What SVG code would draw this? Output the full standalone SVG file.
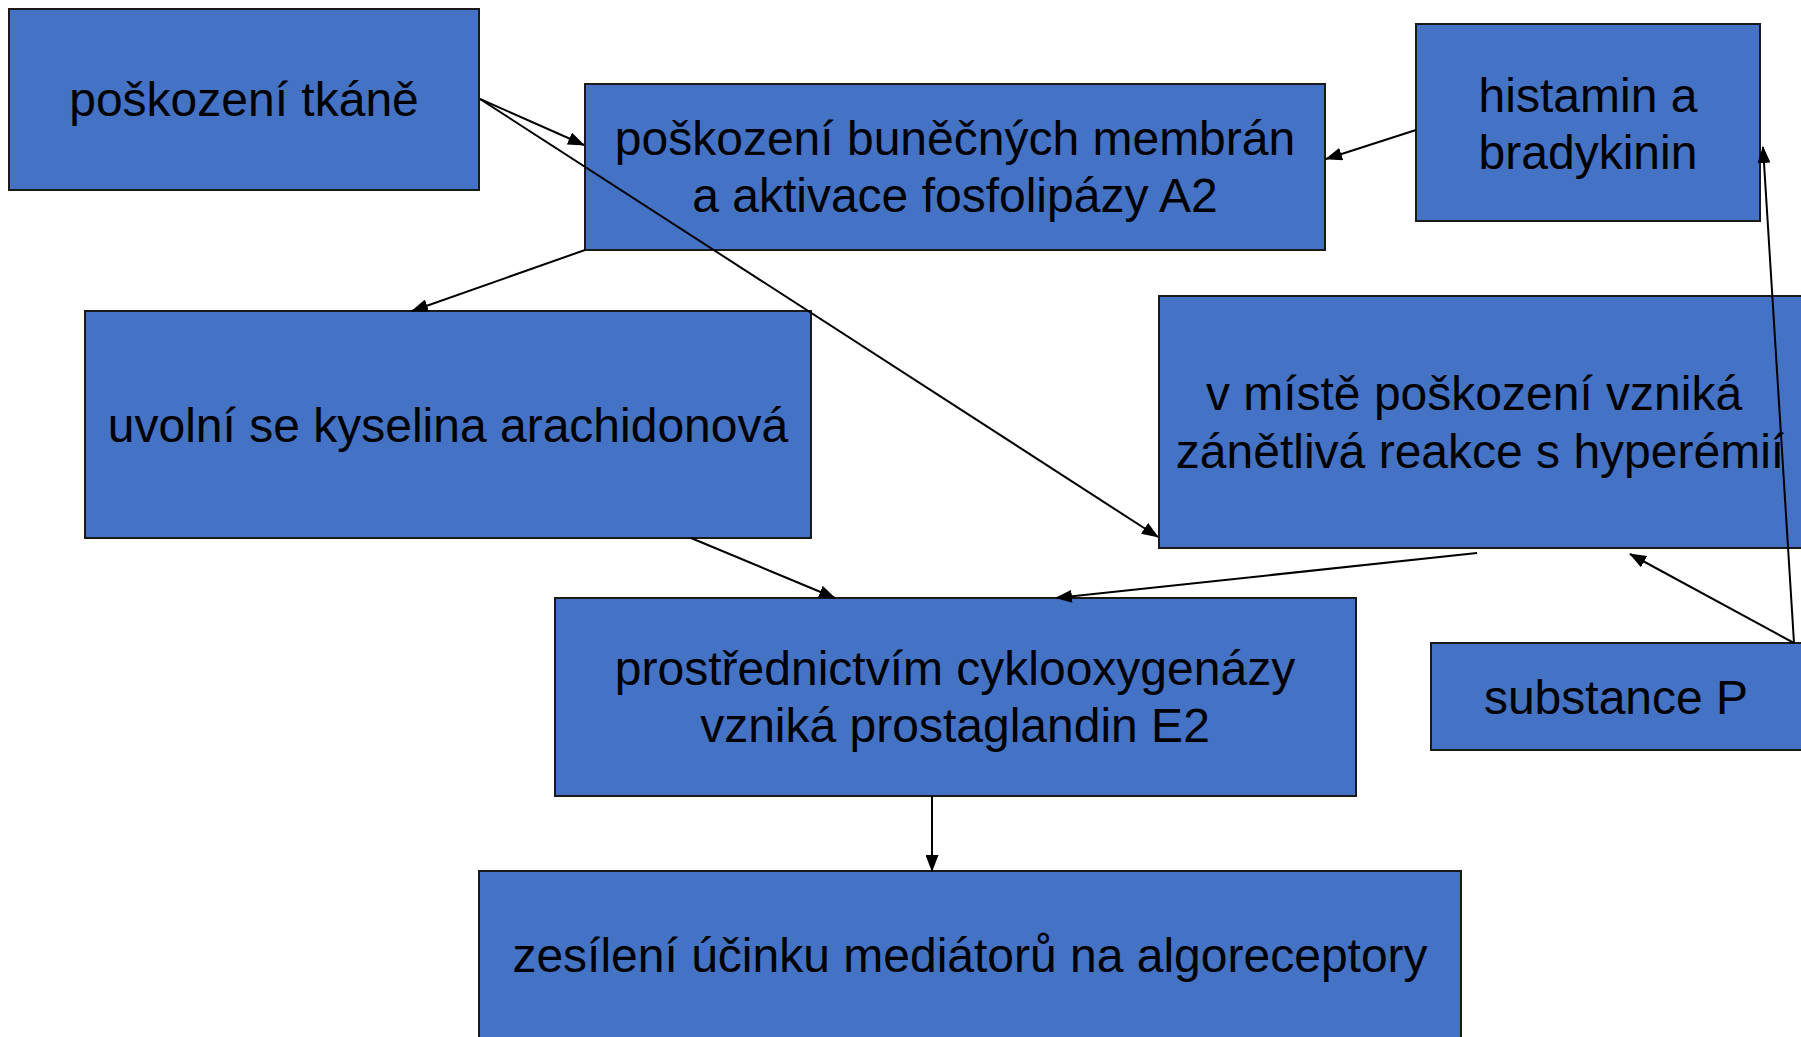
<svg xmlns="http://www.w3.org/2000/svg" width="1801" height="1037" viewBox="0 0 1801 1037">
<style>
.box{fill:#4472C4;stroke:#1a1a1a;stroke-width:2}
.t{font-family:"Liberation Sans",Arial,sans-serif;font-size:48px;fill:#000;text-anchor:middle}
.c{stroke:#000;stroke-width:2;fill:none;marker-end:url(#ah)}
</style>
<defs>
<marker id="ah" markerUnits="userSpaceOnUse" markerWidth="17" markerHeight="13" refX="16" refY="6.5" orient="auto">
<path d="M0,0 L17,6.5 L0,13 z" fill="#000"/>
</marker>
</defs>
<rect width="1801" height="1037" fill="#fff"/>
<g id="n1"><rect class="box" x="9" y="9" width="470" height="181"/><text class="t" x="244" y="116">poškození tkáně</text></g>
<g id="n2"><rect class="box" x="585" y="84" width="740" height="166"/><text class="t" x="955" y="155">poškození buněčných membrán</text><text class="t" x="955" y="212">a aktivace fosfolipázy A2</text></g>
<g id="n3"><rect class="box" x="1416" y="24" width="344" height="197"/><text class="t" x="1588" y="112">histamin a</text><text class="t" x="1588" y="169">bradykinin</text></g>
<g id="n4"><rect class="box" x="85" y="311" width="726" height="227"/><text class="t" x="448" y="442">uvolní se kyselina arachidonová</text></g>
<g id="n5"><rect class="box" x="1159" y="296" width="645" height="252"/><text class="t" x="1474" y="410">v místě poškození vzniká</text><text class="t" x="1480" y="468">zánětlivá reakce s hyperémií</text></g>
<g id="n6"><rect class="box" x="555" y="598" width="801" height="198"/><text class="t" x="955" y="685">prostřednictvím cyklooxygenázy</text><text class="t" x="955" y="742">vzniká prostaglandin E2</text></g>
<g id="n7"><rect class="box" x="1431" y="643" width="373" height="107"/><text class="t" x="1616" y="714">substance P</text></g>
<g id="n8"><rect class="box" x="479" y="871" width="982" height="170"/><text class="t" x="970" y="972">zesílení účinku mediátorů na algoreceptory</text></g>
<g id="connectors">
<line class="c" x1="480" y1="99" x2="584" y2="145"/>
<line class="c" x1="480" y1="99" x2="1158" y2="537"/>
<line class="c" x1="1416" y1="130" x2="1326" y2="159"/>
<line class="c" x1="585" y1="250" x2="412" y2="311"/>
<line class="c" x1="691" y1="538" x2="835" y2="598"/>
<line class="c" x1="1477" y1="553" x2="1056" y2="598"/>
<line class="c" x1="932" y1="796" x2="932" y2="871"/>
<line class="c" x1="1794" y1="643" x2="1630" y2="554"/>
<line class="c" x1="1794" y1="643" x2="1763" y2="147"/>
</g>
</svg>
